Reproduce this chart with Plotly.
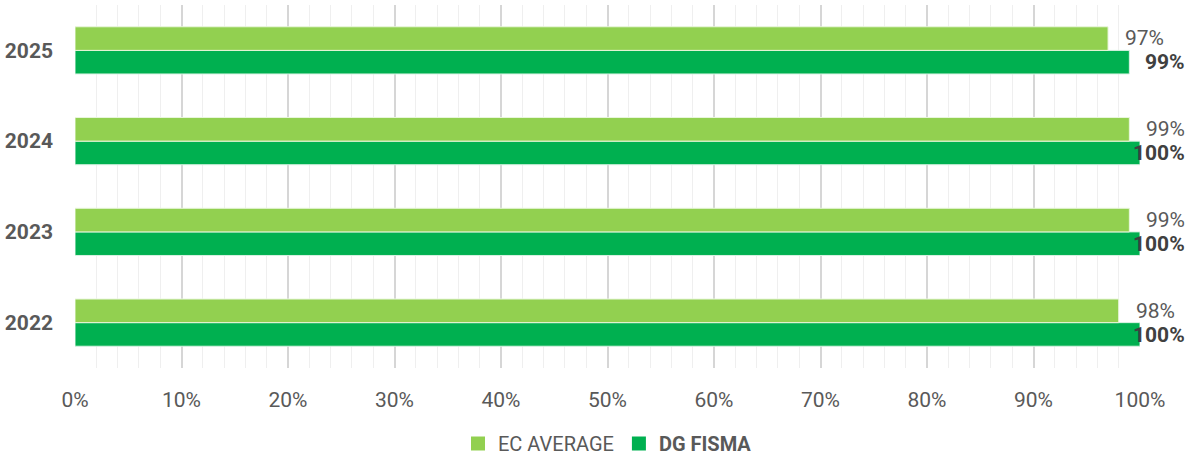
import plotly.graph_objects as go

years = ["2022", "2023", "2024", "2025"]
ec_average = [98, 99, 99, 97]
dg_fisma = [100, 100, 100, 99]
x_ticks = list(range(0, 101, 10))
x_tick_labels = [f"{t}%" for t in x_ticks]

W, H = 1189, 463
ML, MR, MT, MB = 75, 49, 5, 95
plot_w = W - ML - MR
plot_h = H - MT - MB
scale = plot_w / 100.0

FONT = "Roboto"
LIGHT = "#92d050"
DARK = "#00b050"
FS = 21

fig = go.Figure()
fig.add_trace(go.Bar(
    y=years, x=dg_fisma, orientation="h", name="DG FISMA",
    marker=dict(color=DARK, line=dict(color="#d9f2e3", width=1)),
    showlegend=False,
))
fig.add_trace(go.Bar(
    y=years, x=ec_average, orientation="h", name="EC AVERAGE",
    marker=dict(color=LIGHT, line=dict(color="#e9f6dc", width=1)),
    showlegend=False,
))
# legend entries (square swatches)
fig.add_trace(go.Scatter(
    x=[None], y=[None], mode="markers", name="EC AVERAGE",
    marker=dict(symbol="square", size=14, color=LIGHT),
))
fig.add_trace(go.Scatter(
    x=[None], y=[None], mode="markers", name="<b>DG FISMA</b>",
    marker=dict(symbol="square", size=14, color=DARK),
))

def shift_for(v):
    bar_end = ML + v * scale
    right = min(bar_end + 58, W - 2)
    return right - bar_end

for i, v in enumerate(ec_average):
    fig.add_annotation(x=v, y=i, text=f"{v}%", xanchor="right", yanchor="middle",
                       xshift=shift_for(v), yshift=12, showarrow=False,
                       font=dict(family=FONT, size=FS, color="#595959"))
for i, v in enumerate(dg_fisma):
    fig.add_annotation(x=v, y=i, text=f"<b>{v}%</b>", xanchor="right", yanchor="middle",
                       xshift=shift_for(v), yshift=-12, showarrow=False,
                       font=dict(family=FONT, size=FS, color="#404040"))

fig.update_layout(
    width=W, height=H,
    margin=dict(l=ML, r=MR, t=MT, b=MB, autoexpand=False),
    paper_bgcolor="white", plot_bgcolor="white",
    barmode="group", bargap=0.48, bargroupgap=0,
    font=dict(family=FONT, size=FS, color="#595959"),
    showlegend=True,
    legend=dict(orientation="h", x=0.5, xanchor="center", xref="paper",
                yref="container", y=-0.012, yanchor="bottom",
                font=dict(size=20, color="#595959"),
                itemwidth=30, traceorder="normal"),
    xaxis=dict(
        range=[0, 100], tickvals=x_ticks, ticktext=x_tick_labels,
        showgrid=True, gridcolor="#d6d6d6", gridwidth=1.5,
        minor=dict(dtick=2, showgrid=True, gridcolor="#efefef", gridwidth=1),
        zeroline=False, showline=False, ticks="", ticklabelstandoff=17,
        tickfont=dict(family=FONT, size=FS, color="#595959"),
    ),
    yaxis=dict(
        type="category", categoryorder="array", categoryarray=years,
        range=[-0.5, len(years) - 0.5], autorange=False,
        showgrid=False, zeroline=False, showline=False, ticks="",
        ticklabelstandoff=21,
        tickfont=dict(family=FONT, size=FS, color="#595959", weight="bold"),
    ),
)

fig.write_html("out.html")
